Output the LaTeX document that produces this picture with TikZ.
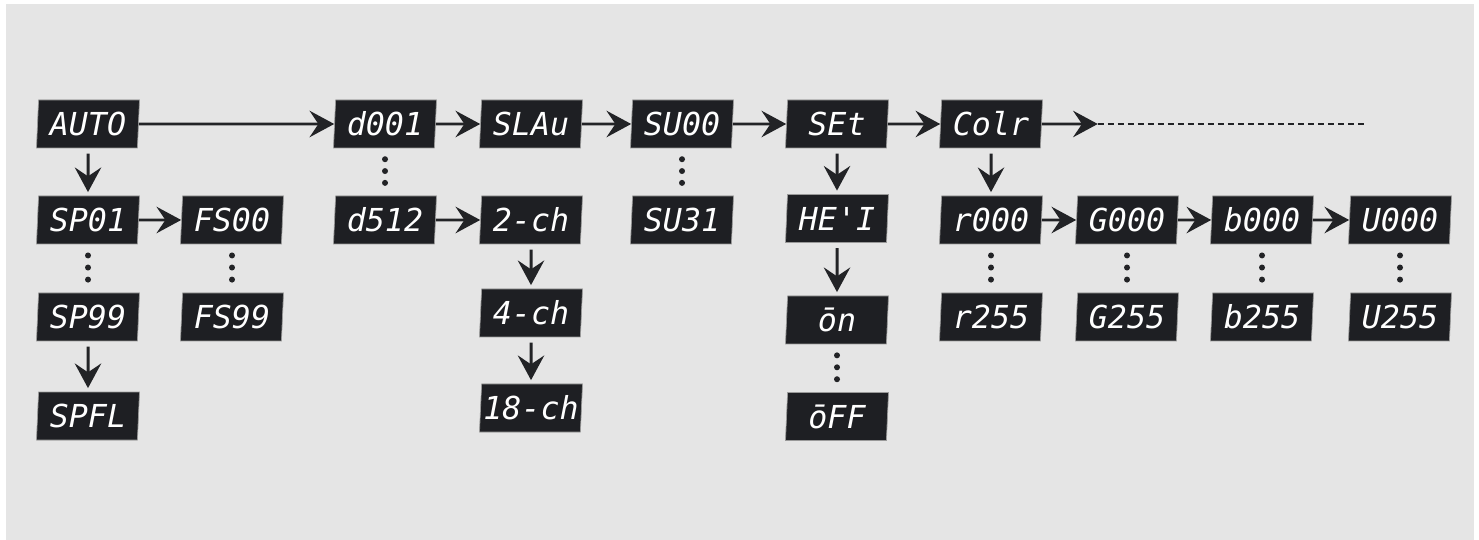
\documentclass[tikz,border=0pt]{standalone}
\usepackage{fontspec}
\newfontfamily\segfont{DejaVu Sans Mono}
\usepackage{xcolor}
\usepackage{tikz}
\usetikzlibrary{shapes,arrows.meta,positioning,calc}
\definecolor{panel}{HTML}{E5E5E5}
\definecolor{lcd}{HTML}{1E1F23}
\definecolor{ink}{HTML}{222326}

\begin{document}
\begin{tikzpicture}[
    on grid,
    node distance=1.94cm and 2.9cm,
    disp/.style={trapezium, trapezium left angle=85, trapezium right angle=95, trapezium stretches body, draw=black!40, line width=0.4pt, fill=lcd, minimum width=2.06cm, minimum height=0.96cm, inner sep=0pt, text=white, font=\segfont\itshape\fontsize{18}{18}\selectfont},
    arrow/.style={-{Stealth[length=14pt,width=15pt,inset=5pt]}, line width=1.7pt, draw=ink},
    downarrow/.style={arrow, shorten <=3pt, shorten >=2pt},
    dashline/.style={draw=ink, line width=1pt, dash pattern=on 3.4pt off 2.3pt},
]
% panel
\fill[panel] (0.12,-0.08) rectangle (29.48,-10.8);
\useasboundingbox (0,0) rectangle (29.58,-10.8);

% main menu
\node[disp] (auto) at (1.76,-2.48) {AUTO};
\node[disp, right=5.94cm of auto] (d001) {d001};
\node[disp, right=2.92cm of d001] (slav) {SLAu};
\node[disp, right=3.02cm of slav] (su00) {SU00};
\node[disp, right=3.10cm of su00] (set) {SEt};
\node[disp, right=3.08cm of set] (colr) {Colr};
\coordinate[right=1.12cm of colr.east] (more);
\coordinate[right=5.4cm of more] (moreend);

% second row
\node[disp, below=1.92cm of auto] (sp01) {SP01};
\node[disp, right=2.88cm of sp01] (fs00) {FS00};
\node[disp, below=1.92cm of d001] (d512) {d512};
\node[disp, below=1.92cm of slav] (ch2) {2-ch};
\node[disp, below=1.92cm of su00] (su31) {SU31};
\node[disp, below=1.89cm of set] (heat) {HE'I};
\node[disp, below=1.92cm of colr] (r000) {r000};
\node[disp, right=2.72cm of r000] (g000) {G000};
\node[disp, right=2.70cm of g000] (b000) {b000};
\node[disp, right=2.76cm of b000] (u000) {U000};

% third row
\node[disp, below=1.94cm of sp01] (sp99) {SP99};
\node[disp, below=1.94cm of fs00] (fs99) {FS99};
\node[disp, below=1.86cm of ch2] (ch4) {4-ch};
\node[disp, below=2.03cm of heat] (on) {ōn};
\node[disp, below=1.94cm of r000] (r255) {r255};
\node[disp, below=1.94cm of g000] (g255) {G255};
\node[disp, below=1.94cm of b000] (b255) {b255};
\node[disp, below=1.94cm of u000] (u255) {U255};

% fourth row
\node[disp, below=1.98cm of sp99] (spfl) {SPFL};
\node[disp, below=1.90cm of ch4] (ch18) {18-ch};
\node[disp, below=1.93cm of on] (off) {ōFF};

% Arrows
\draw[arrow] (auto) -- (d001);
\draw[arrow] (d001) -- (slav);
\draw[arrow] (slav) -- (su00);
\draw[arrow] (su00) -- (set);
\draw[arrow] (set) -- (colr);
\draw[arrow] (colr) -- (more);
\draw[dashline] (more) -- (moreend);
\draw[arrow] (sp01) -- (fs00);
\draw[arrow] (d512) -- (ch2);
\draw[arrow] (r000) -- (g000);
\draw[arrow] (g000) -- (b000);
\draw[arrow] (b000) -- (u000);
\draw[downarrow] (auto) -- (sp01);
\draw[downarrow] (sp99) -- (spfl);
\draw[downarrow] (ch2) -- (ch4);
\draw[downarrow] (ch4) -- (ch18);
\draw[downarrow] (set) -- (heat);
\draw[downarrow] (heat) -- (on);
\draw[downarrow] (colr) -- (r000);

% ranges
\foreach \a/\b in {sp01/sp99, fs00/fs99, d001/d512, su00/su31, on/off, r000/r255, g000/g255, b000/b255, u000/u255}
  \foreach \f in {0.23,0.48,0.73}
    \fill[ink] ($(\a.south)!\f!(\b.north)$) circle (0.06cm);

\end{tikzpicture}
\end{document}
